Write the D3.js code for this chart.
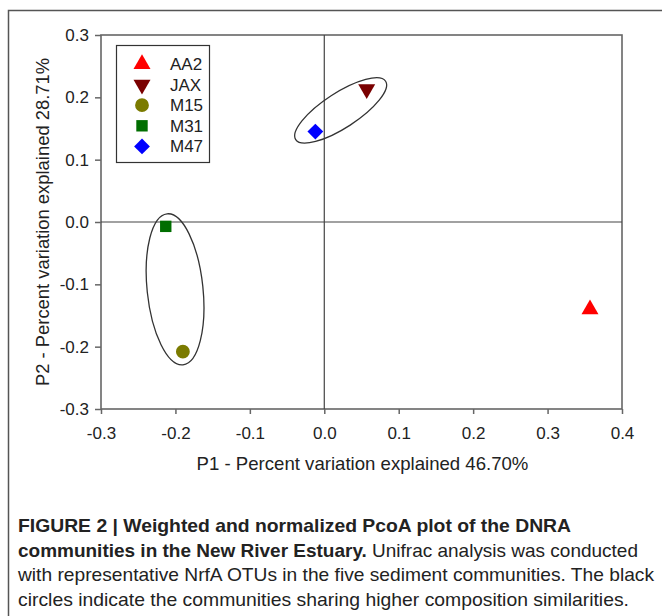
<!DOCTYPE html>
<html><head><meta charset="utf-8">
<script src="https://cdn.jsdelivr.net/npm/d3@7"></script>
<style>html,body{margin:0;padding:0;background:#fff;}svg{display:block;font-family:"Liberation Sans",Arial,sans-serif;}</style>
</head><body>
<svg id="c" width="662" height="616"></svg>
<script>
// ---- data ----
const samples = ["AA2", "JAX", "M15", "M31", "M47"];
const p1 = [0.357, 0.057, -0.190, -0.213, -0.012];
const p2 = [-0.140, 0.213, -0.208, -0.007, 0.145];
const xTicks = [-0.3, -0.2, -0.1, 0.0, 0.1, 0.2, 0.3, 0.4];
const yTicks = [-0.3, -0.2, -0.1, 0.0, 0.1, 0.2, 0.3];
// grouping ellipses: centre (P1,P2), semi-axes in P1 units, rotation deg
const groupCx = [0.022, -0.2005];
const groupCy = [0.179, -0.108];
const groupA = [0.072, 0.0375];
const groupB = [0.0235, 0.102];
const groupRot = [-33, -6];
const xTitle = "P1 - Percent variation explained 46.70%";
const yTitle = "P2 - Percent variation explained 28.71%";

// ---- styles ----
const shapeOf = {AA2: "up", JAX: "down", M15: "circle", M31: "square", M47: "diamond"};
const colorOf = {AA2: "#ff0000", JAX: "#7a0000", M15: "#7b7b00", M31: "#006e00", M47: "#0000ff"};
const sizeOf = {AA2: 125, JAX: 125, M15: 150, M31: 130, M47: 125};

const svg = d3.select("#c");
const L = 101, R = 622, T = 35, B = 409;
const x = d3.scaleLinear().domain([-0.3, 0.4]).range([L, R]);
const y = d3.scaleLinear().domain([-0.3, 0.3]).range([B, T]);

// outer figure frame
svg.append("path").attr("d", `M662,10.5 H8.5 V616`).attr("fill", "none").attr("stroke", "#555").attr("stroke-width", 1.5);

// plot frame
svg.append("rect").attr("x", L).attr("y", T).attr("width", R - L).attr("height", B - T)
  .attr("fill", "none").attr("stroke", "#666").attr("stroke-width", 1.6);

// zero lines
svg.append("line").attr("x1", x(0)).attr("x2", x(0)).attr("y1", T).attr("y2", B).attr("stroke", "#444").attr("stroke-width", 1.2);
svg.append("line").attr("x1", L).attr("x2", R).attr("y1", y(0)).attr("y2", y(0)).attr("stroke", "#444").attr("stroke-width", 1.2);

// axes
const fmt = d => d3.format(".1f")(d).replace("−", "-");
const xa = svg.append("g").attr("transform", `translate(0,${B})`)
  .call(d3.axisBottom(x).tickValues(xTicks).tickFormat(fmt).tickSize(5).tickPadding(13));
const ya = svg.append("g").attr("transform", `translate(${L},0)`)
  .call(d3.axisLeft(y).tickValues(yTicks).tickFormat(fmt).tickSize(6).tickPadding(6));
[xa, ya].forEach(g => {
  g.select(".domain").remove();
  g.selectAll(".tick line").attr("stroke", "#666").attr("stroke-width", 1.5);
  g.selectAll(".tick text").attr("fill", "#222").style("font-size", "17px").style("font-family", "Liberation Sans, Arial, sans-serif");
});

// axis titles
svg.append("text").attr("x", (L + R) / 2 + 1).attr("y", 470).attr("text-anchor", "middle")
  .style("font-size", "18.6px").attr("fill", "#222").text(xTitle);
svg.append("text").attr("transform", `translate(49,${(T + B) / 2}) rotate(-90)`).attr("text-anchor", "middle")
  .style("font-size", "18.4px").attr("fill", "#222").text(yTitle);

// ellipses
const k = x(0.1) - x(0);
groupCx.forEach((cx, i) => {
  svg.append("ellipse")
    .attr("transform", `translate(${x(cx)},${y(groupCy[i])}) rotate(${groupRot[i]})`)
    .attr("rx", groupA[i] / 0.1 * k).attr("ry", groupB[i] / 0.1 * k)
    .attr("fill", "none").attr("stroke", "#333").attr("stroke-width", 1.3);
});

function symPath(name) {
  const s = shapeOf[name];
  const type = (s === "up" || s === "down") ? d3.symbolTriangle
    : s === "circle" ? d3.symbolCircle : d3.symbolSquare;
  return d3.symbol().type(type).size(sizeOf[name])();
}
function symTransform(name, px, py) {
  const s = shapeOf[name];
  const rot = s === "down" ? 180 : s === "diamond" ? 45 : 0;
  return `translate(${px},${py}) rotate(${rot})`;
}

// points
svg.append("g").selectAll("path").data(samples).join("path")
  .attr("d", d => symPath(d))
  .attr("transform", (d, i) => symTransform(d, x(p1[i]), y(p2[i])))
  .attr("fill", d => colorOf[d]);

// legend
const lg = svg.append("g");
lg.append("rect").attr("x", 116.5).attr("y", 45.5).attr("width", 93).attr("height", 117)
  .attr("fill", "#fff").attr("stroke", "#333").attr("stroke-width", 1.2);
samples.forEach((s, i) => {
  const cy = 64 + i * 20.6;
  lg.append("path").attr("d", symPath(s)).attr("transform", symTransform(s, 142, cy)).attr("fill", colorOf[s]);
  lg.append("text").attr("x", 170).attr("y", cy + 6).style("font-size", "17px").attr("fill", "#222").text(s);
});

// caption
const capFont = "'Liberation Sans Narrow', 'Liberation Sans', Arial, sans-serif";
const lines = [
  {bold: "FIGURE 2 | Weighted and normalized PcoA plot of the DNRA", reg: "", w: 553},
  {bold: "communities in the New River Estuary.", reg: " Unifrac analysis was conducted", w: 620},
  {bold: "", reg: "with representative NrfA OTUs in the five sediment communities. The black", w: 636},
  {bold: "", reg: "circles indicate the communities sharing higher composition similarities.", w: 611}
];
lines.forEach((ln, i) => {
  const t = svg.append("text").attr("x", 18).attr("y", 532 + i * 24.5)
    .style("font-family", capFont).style("font-size", "19px").attr("fill", "#222")
    .attr("textLength", ln.w).attr("lengthAdjust", "spacingAndGlyphs");
  if (ln.bold) t.append("tspan").style("font-weight", "bold").text(ln.bold);
  if (ln.reg) t.append("tspan").text(ln.reg);
});
</script>
</body></html>
